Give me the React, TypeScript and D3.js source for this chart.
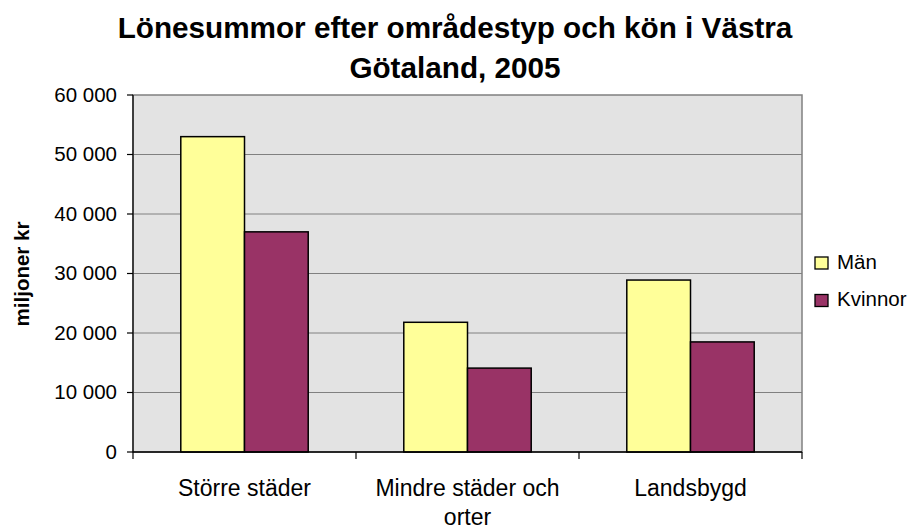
import React from 'react';
import * as d3 from 'd3';

// data (miljoner kr)
const categories = ['Större städer', 'Mindre städer och orter', 'Landsbygd'];
const categoryLines = [['Större städer'], ['Mindre städer och', 'orter'], ['Landsbygd']];
const series = ['Män', 'Kvinnor'];
const manValues = [53000, 21800, 28900];
const kvinnorValues = [37000, 14100, 18500];
const yTicks = [0, 10000, 20000, 30000, 40000, 50000, 60000];
const colors = ['#FFFF99', '#993366'];

const W = 910;
const H = 529;
const margin = { left: 133, right: 108, top: 95, bottom: 77 };
const font = '"Liberation Sans", Arial, sans-serif';

const fmt = (v: number) => d3.format(',')(v).replace(/,/g, ' ');

const App = () => {
  const innerW = W - margin.left - margin.right;
  const innerH = H - margin.top - margin.bottom;

  const x = d3.scaleBand().domain(categories).range([0, innerW]);
  // Excel gap width 150% -> bar = band / 3.5
  const barW = x.bandwidth() / 3.5;
  const gap = barW * 0.75;
  const y = d3.scaleLinear().domain([0, 60000]).range([innerH, 0]);

  const allValues = [manValues, kvinnorValues];

  return (
    <svg width={W} height={H} style={{ position: 'absolute', left: 0, top: 0, background: '#fff' }}>
      {/* title */}
      <text x={455} y={38} textAnchor="middle" fontFamily={font} fontWeight="bold" fontSize={29.7}>
        Lönesummor efter områdestyp och kön i Västra
      </text>
      <text x={455} y={78} textAnchor="middle" fontFamily={font} fontWeight="bold" fontSize={29.7}>
        Götaland, 2005
      </text>

      <g transform={`translate(${margin.left},${margin.top})`}>
        <rect x={0} y={0} width={innerW} height={innerH} fill="#E3E3E3" stroke="#808080" strokeWidth={1.5} />
        {yTicks.map(t => (
          <g key={t}>
            {t > 0 && t < 60000 && (
              <line x1={0} x2={innerW} y1={y(t)} y2={y(t)} stroke="#808080" strokeWidth={1} />
            )}
            <line x1={-6} x2={0} y1={y(t)} y2={y(t)} stroke="#000" strokeWidth={1.2} />
            <text x={-16} y={y(t)} dy="0.34em" textAnchor="end" fontFamily={font} fontSize={20.5}>
              {fmt(t)}
            </text>
          </g>
        ))}

        {categories.map((c, i) => (
          <g key={c}>
            {allValues.map((vals, s) => (
              <rect
                key={s}
                x={x(c)! + gap + s * barW}
                y={y(vals[i])}
                width={barW}
                height={innerH - y(vals[i])}
                fill={colors[s]}
                stroke="#000"
                strokeWidth={1.5}
              />
            ))}
            <text textAnchor="middle" fontFamily={font} fontSize={23}>
              {categoryLines[i].map((l, k) => (
                <tspan key={k} x={x(c)! + x.bandwidth() / 2} y={innerH + 44 + k * 29}>
                  {l}
                </tspan>
              ))}
            </text>
          </g>
        ))}

        {/* axes */}
        <line x1={0} x2={0} y1={0} y2={innerH} stroke="#000" strokeWidth={1.2} />
        <line x1={0} x2={innerW} y1={innerH} y2={innerH} stroke="#000" strokeWidth={1.5} />
        {[0, 1, 2, 3].map(k => (
          <line
            key={k}
            x1={k * x.step()}
            x2={k * x.step()}
            y1={innerH}
            y2={innerH + 7}
            stroke="#000"
            strokeWidth={1.2}
          />
        ))}
      </g>

      {/* y axis label */}
      <text
        transform="translate(29,274) rotate(-90)"
        textAnchor="middle"
        fontFamily={font}
        fontWeight="bold"
        fontSize={20.5}
      >
        miljoner kr
      </text>

      {/* legend */}
      {series.map((s, i) => (
        <g key={s} transform={`translate(815,${257 + i * 37.5})`}>
          <rect x={0} y={0} width={13} height={12} fill={colors[i]} stroke="#000" strokeWidth={1.3} />
          <text x={22} y={11.5} fontFamily={font} fontSize={20.5}>
            {s}
          </text>
        </g>
      ))}
    </svg>
  );
};

export default App;
